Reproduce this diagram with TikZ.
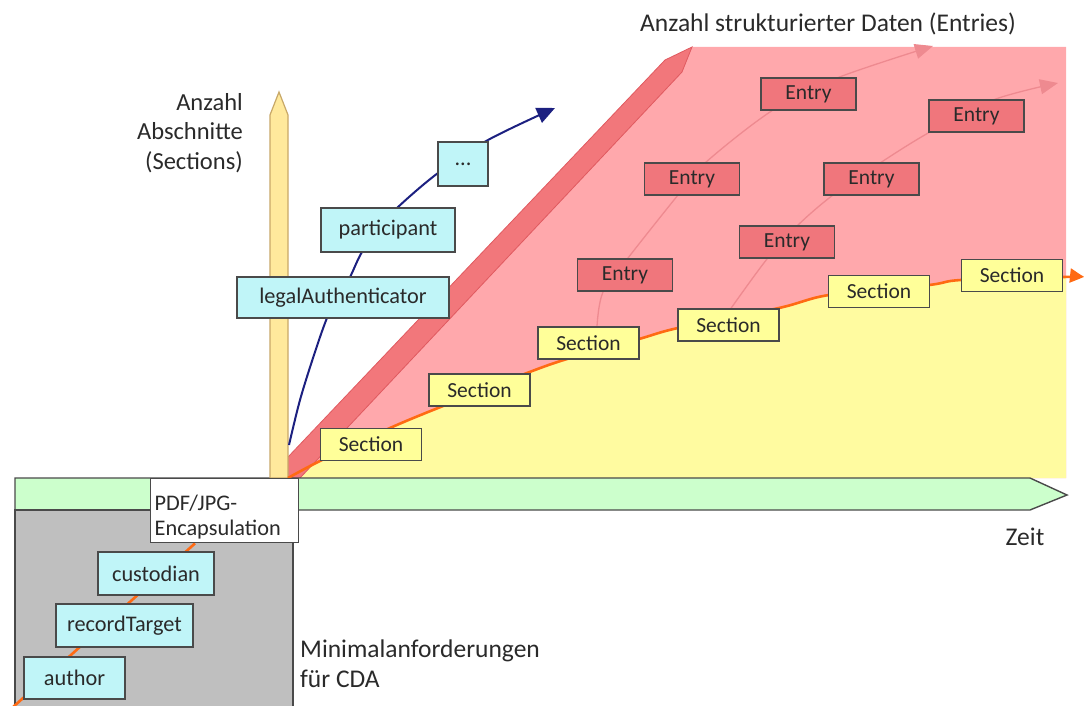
\documentclass[tikz,border=0pt]{standalone}
\usepackage{fontspec}
\setmainfont{Carlito}
\usetikzlibrary{arrows.meta}
\pgfdeclarelayer{areas}
\pgfdeclarelayer{curves}
\pgfsetlayers{areas,curves,main}
\definecolor{pinkarea}{HTML}{FFA8AC}
\definecolor{bandfill}{HTML}{F2777B}
\definecolor{bandline}{HTML}{E05A60}
\definecolor{entryfill}{HTML}{F0767C}
\definecolor{secfill}{HTML}{FFFF99}
\definecolor{yellowarea}{HTML}{FFFBA0}
\definecolor{cdafill}{HTML}{C0F5F8}
\definecolor{timefill}{HTML}{CCFFCC}
\definecolor{minfill}{HTML}{BFBFBF}
\definecolor{axisfill}{HTML}{FFE99C}
\definecolor{axisline}{HTML}{C8A868}
\definecolor{orangeline}{HTML}{FF6A13}
\definecolor{navyline}{HTML}{1C2080}
\definecolor{entryline}{HTML}{EE8A90}
\definecolor{boxline}{HTML}{4A4A4A}
\definecolor{txt}{HTML}{2A2A2A}
\begin{document}
\begin{tikzpicture}[x=1pt,y=-1pt,
  every node/.style={font=\fontsize{21.5}{29}\selectfont, text=txt},
  box/.style={draw=boxline, line width=1.4pt, inner sep=0pt, minimum height=32pt},
  secbox/.style={box, fill=secfill, minimum width=101pt},
  entrybox/.style={box, fill=entryfill, minimum width=95pt},
  cdabox/.style={box, fill=cdafill, minimum height=43pt, font=\fontsize{22.3}{26}\selectfont},
  plaintext/.style={inner sep=0pt, font=\fontsize{25.5}{30}\selectfont},
  entrycurve/.style={draw=entryline, line width=1.3pt, -{Triangle[length=18pt,width=15pt]}},
]
\useasboundingbox (0,0) rectangle (1085,706);

\begin{pgfonlayer}{areas}
% coloured areas: entries (pink) above the section curve, sections (yellow) below
\fill[pinkarea] (288,478) -- (692,47) -- (1066,47) -- (1066,478) -- cycle;
\fill[yellowarea] plot[smooth, tension=0.5] coordinates {(288,478) (320,461) (390,428) (443,406) (527,373) (567,359) (639,339) (678,328) (779,308) (829,295) (929,285) (961,280) (1066,277)} -- (1066,478) -- cycle;
% diagonal band
\filldraw[fill=bandfill, draw=bandline, line width=0.8pt]
  (288,478) -- (288,457) -- (665,60) -- (692,47) -- (682,72) -- (300,478) -- cycle;
% time axis
\filldraw[fill=timefill, draw=boxline, line width=1.4pt]
  (15,478) -- (1030,478) -- (1067,495) -- (1030,510) -- (15,510) -- cycle;
% minimal requirements area
\filldraw[fill=minfill, draw=boxline, line width=1.4pt]
  (15,716) -- (15,510) -- (293,510) -- (293,716);
% sections axis
\filldraw[fill=axisfill, draw=axisline, line width=1.2pt]
  (270,478) -- (270,115) -- (279,92) -- (288,115) -- (288,478) -- cycle;
\end{pgfonlayer}

% section boxes
\node[secbox] (s1) at (371,444.5) {Section};
\node[secbox] (s2) at (479.5,390) {Section};
\node[secbox] (s3) at (588.5,343) {Section};
\node[secbox] (s4) at (728.5,325) {Section};
\node[secbox] (s5) at (879,291.5) {Section};
\node[secbox] (s6) at (1012,275.5) {Section};

% entry boxes
\node[entrybox] (e1) at (808.5,94) {Entry};
\node[entrybox] (e2) at (976.5,116) {Entry};
\node[entrybox] (e3) at (692,179) {Entry};
\node[entrybox] (e4) at (871.5,179) {Entry};
\node[entrybox] (e5) at (787,242) {Entry};
\node[entrybox] (e6) at (625,275) {Entry};

% header boxes
\node[cdabox, minimum width=212pt, minimum height=41pt] (legal) at (343,297.5) {legalAuthenticator};
\node[cdabox, minimum width=134pt, minimum height=44pt] (part) at (388,230) {participant};
\node[cdabox, minimum width=50pt, minimum height=44pt] (more) at (463,164) {...};

\node[cdabox, minimum width=116pt] (cust) at (156,573.5) {custodian};
\node[cdabox, minimum width=137pt] (rect) at (124.5,625.5) {recordTarget};
\node[cdabox, minimum width=101pt, minimum height=42pt] (auth) at (74.5,678) {author};
\node[box, fill=white, anchor=north west, minimum height=64pt, text width=140pt,
      align=left, inner xsep=4pt, font=\fontsize{22.3}{25}\selectfont] (pdf) at (150,478)
      {\rule{0pt}{29pt}PDF/JPG-\\Encapsulation};

% axis captions
\node[plaintext, anchor=west] (entriesaxis) at (640,24) {Anzahl strukturierter Daten (Entries)};
\node[plaintext, anchor=north east, align=right, font=\fontsize{24.5}{29.5}\selectfont]
  (sectionsaxis) at (243,93) {Anzahl\\Abschnitte\\(Sections)};
\node[plaintext] (timeaxis) at (1025,537) {Zeit};
\node[plaintext, anchor=north west, align=left] (minreq) at (300,640) {Minimalanforderungen\\für CDA};

% free ends of the curves
\coordinate (mstart) at (12,708);
\coordinate (bstart) at (289,445);
\coordinate (bend) at (555,108);
\coordinate (aend) at (933,46);
\coordinate (bbend) at (1058,83);
\coordinate (ostart) at (288,478);
\coordinate (oend) at (1084,277);

\begin{pgfonlayer}{curves}
% minimal requirements line
\draw[orangeline, line width=2.6pt] (mstart) -- (pdf.south west -| 195,0);
% sections curve
\draw[orangeline, line width=2.6pt, -{Triangle[length=14pt,width=14pt]}]
  plot[smooth, tension=0.5] coordinates {(ostart) (320,461) (390,428) (443,406) (527,373) (567,359) (639,339) (678,328) (779,308) (829,295) (929,285) (961,280) (1063,277) (oend)};
% header curve
\draw[navyline, line width=2pt, -{Triangle[length=18pt,width=16pt]}]
  plot[smooth, tension=0.55] coordinates {(bstart) (300,400) (314,355) (327,318) (338,297) (350,277) (362,252) (380,228) (397,208) (438,173) (488,140) (bend)};
% entry curves
\draw[entrycurve] plot[smooth, tension=0.55] coordinates {(s3.north -| 597,0) (603,292) (628,258) (678,195) (705,163) (773,110) (837,78) (aend)};
\draw[entrycurve] plot[smooth, tension=0.55] coordinates {(s4.north -| 731,0) (767,259) (797,226) (833,195) (880,163) (930,132) (993,100) (bbend)};
\end{pgfonlayer}
\end{tikzpicture}
\end{document}
